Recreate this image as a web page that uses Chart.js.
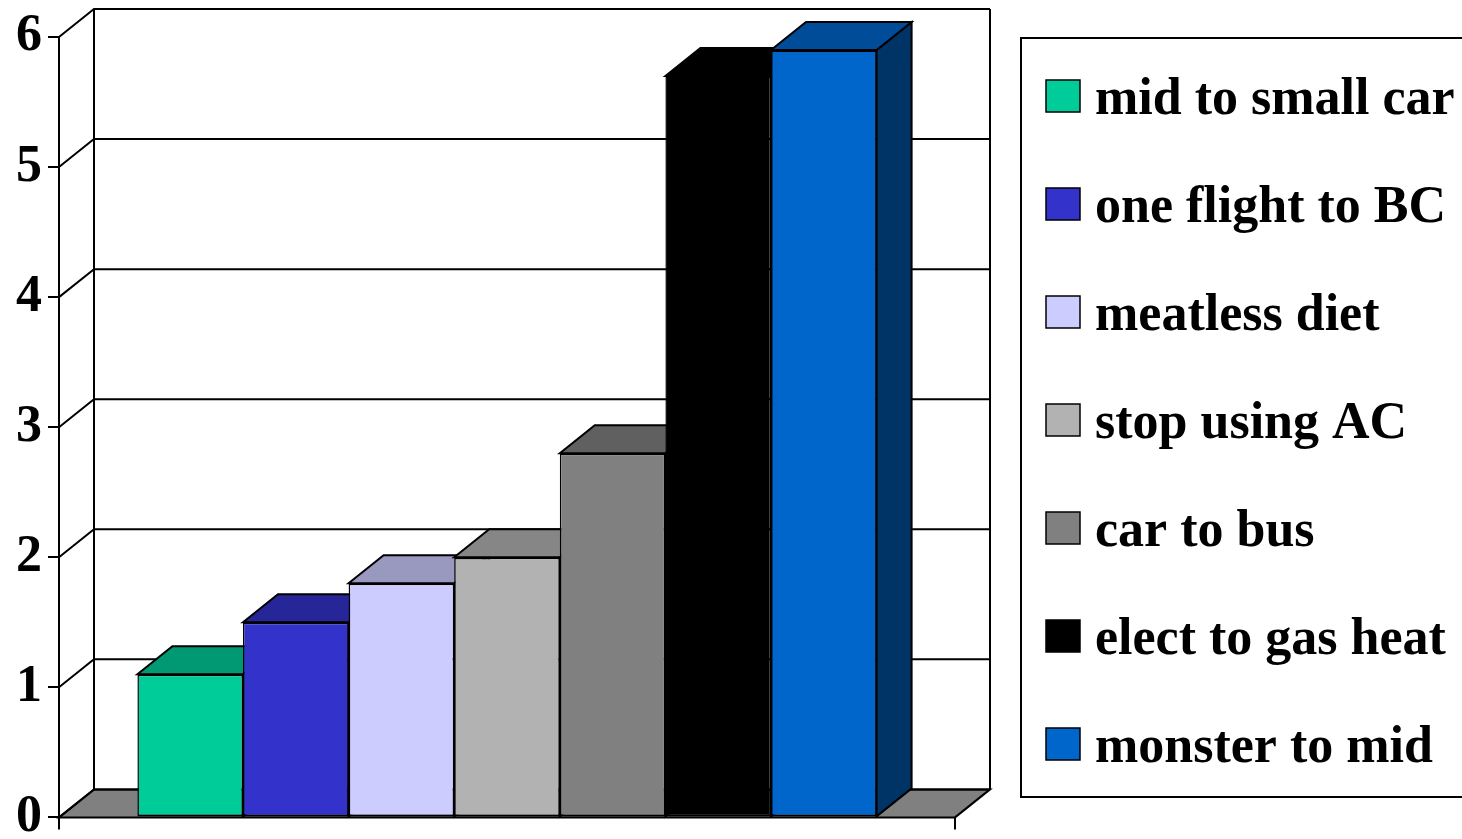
<!DOCTYPE html>
<html>
<head>
<meta charset="utf-8">
<script src="https://cdn.jsdelivr.net/npm/chart.js@4.4.1/dist/chart.umd.min.js"></script>
<style>
html, body { margin: 0; padding: 0; background: #ffffff; overflow: hidden; }
canvas { display: block; }
</style>
</head>
<body>
<canvas id="c" width="1462" height="839" style="width:1462px;height:839px"></canvas>
<script>
// ---- data ----
const categories = [''];
const seriesLabels = ['mid to small car', 'one flight to BC', 'meatless diet', 'stop using AC', 'car to bus', 'elect to gas heat', 'monster to mid'];
const seriesValues = [1.1, 1.5, 1.8, 2.0, 2.8, 5.7, 5.9];
const yTickValues = [0, 1, 2, 3, 4, 5, 6];

// ---- styles ----
const frontColors = ['#00CC99', '#3333CC', '#CCCCFF', '#B2B2B2', '#808080', '#000000', '#0066CC'];
const topColors   = ['#009973', '#262699', '#9999BF', '#868686', '#606060', '#000000', '#004C99'];
const sideColors  = ['#00664D', '#1A1A66', '#666680', '#595959', '#404040', '#000000', '#003366'];
const FONT = '"Liberation Serif", "Times New Roman", serif';
const DX = 35, DY = 28;

const depthPlugin = {
  id: 'depth3d',
  beforeDatasetsDraw(chart) {
    const { ctx, chartArea: a, scales: { y } } = chart;
    const yb = y.getPixelForValue(y.min);
    const yt = y.getPixelForValue(y.max);
    ctx.save();
    ctx.lineWidth = 2;
    ctx.strokeStyle = '#000000';
    ctx.lineJoin = 'miter';
    // floor
    ctx.beginPath();
    ctx.moveTo(a.left, yb);
    ctx.lineTo(a.right, yb);
    ctx.lineTo(a.right + DX, yb - DY);
    ctx.lineTo(a.left + DX, yb - DY);
    ctx.closePath();
    ctx.fillStyle = '#808080';
    ctx.fill();
    ctx.stroke();
    // side wall and back wall grid lines
    ctx.beginPath();
    y.ticks.forEach(t => {
      const py = y.getPixelForValue(t.value);
      ctx.moveTo(a.left, py);
      ctx.lineTo(a.left + DX, py - DY);
      ctx.lineTo(a.right + DX, py - DY);
    });
    ctx.moveTo(a.left + DX, yt - DY);
    ctx.lineTo(a.left + DX, yb - DY);
    ctx.moveTo(a.right + DX, yt - DY);
    ctx.lineTo(a.right + DX, yb - DY);
    ctx.stroke();
    // bar side and top faces (front faces drawn by Chart.js afterwards)
    chart.data.datasets.forEach((ds, i) => {
      const meta = chart.getDatasetMeta(i);
      meta.data.forEach(bar => {
        const p = bar.getProps(['x', 'y', 'base', 'width'], true);
        const x1 = p.x - p.width / 2, x2 = p.x + p.width / 2;
        ctx.beginPath();
        ctx.moveTo(x2, p.y);
        ctx.lineTo(x2 + DX, p.y - DY);
        ctx.lineTo(x2 + DX, p.base - DY);
        ctx.lineTo(x2, p.base);
        ctx.closePath();
        ctx.fillStyle = sideColors[i];
        ctx.fill();
        ctx.stroke();
        ctx.beginPath();
        ctx.moveTo(x1, p.y);
        ctx.lineTo(x1 + DX, p.y - DY);
        ctx.lineTo(x2 + DX, p.y - DY);
        ctx.lineTo(x2, p.y);
        ctx.closePath();
        ctx.fillStyle = topColors[i];
        ctx.fill();
        ctx.stroke();
      });
    });
    ctx.restore();
  },
  afterDraw(chart) {
    const { ctx } = chart;
    ctx.save();
    ctx.lineWidth = 2;
    ctx.strokeStyle = '#000000';
    ctx.strokeRect(1021, 38, 520, 759);
    ctx.font = 'bold 52px ' + FONT;
    ctx.textBaseline = 'alphabetic';
    ctx.textAlign = 'left';
    chart.data.datasets.forEach((ds, i) => {
      const cy = 96 + i * 108;
      ctx.fillStyle = ds.backgroundColor;
      ctx.fillRect(1046, cy - 16, 34, 32);
      ctx.lineWidth = 1.5;
      ctx.strokeRect(1046, cy - 16, 34, 32);
      ctx.fillStyle = '#000000';
      ctx.fillText(ds.label, 1095, cy + 18);
    });
    ctx.restore();
  }
};

const datasets = seriesLabels.map((label, i) => ({
  label: label,
  data: [seriesValues[i]],
  backgroundColor: frontColors[i],
  borderColor: '#000000',
  borderWidth: { top: 2, left: 1.5, right: 1.5, bottom: 2 },
  borderSkipped: false,
  categoryPercentage: 0.825,
  barPercentage: 1.0
}));

new Chart(document.getElementById('c'), {
  type: 'bar',
  data: { labels: categories, datasets: datasets },
  plugins: [depthPlugin],
  options: {
    responsive: false,
    animation: false,
    devicePixelRatio: 1,
    layout: { autoPadding: false, padding: { top: 37, right: 507, bottom: 0, left: 0 } },
    plugins: { legend: { display: false }, tooltip: { enabled: false }, title: { display: false } },
    scales: {
      x: {
        type: 'category',
        offset: true,
        grid: { display: true, offset: true, drawOnChartArea: false, drawTicks: true, tickLength: 12, color: '#000000', lineWidth: 2 },
        border: { display: true, color: '#000000', width: 2 },
        ticks: { display: false },
        afterFit: s => { s.height = 21; }
      },
      y: {
        min: 0,
        max: 6,
        afterBuildTicks: s => { s.ticks = yTickValues.map(v => ({ value: v })); },
        grid: { display: true, drawOnChartArea: false, drawTicks: true, tickLength: 11, color: '#000000', lineWidth: 2 },
        border: { display: true, color: '#000000', width: 2 },
        ticks: { color: '#000000', padding: 6, font: { family: FONT, size: 52, weight: 'bold', lineHeight: 0.6 } },
        afterFit: s => { s.width = 59; }
      }
    }
  }
});
</script>
</body>
</html>
